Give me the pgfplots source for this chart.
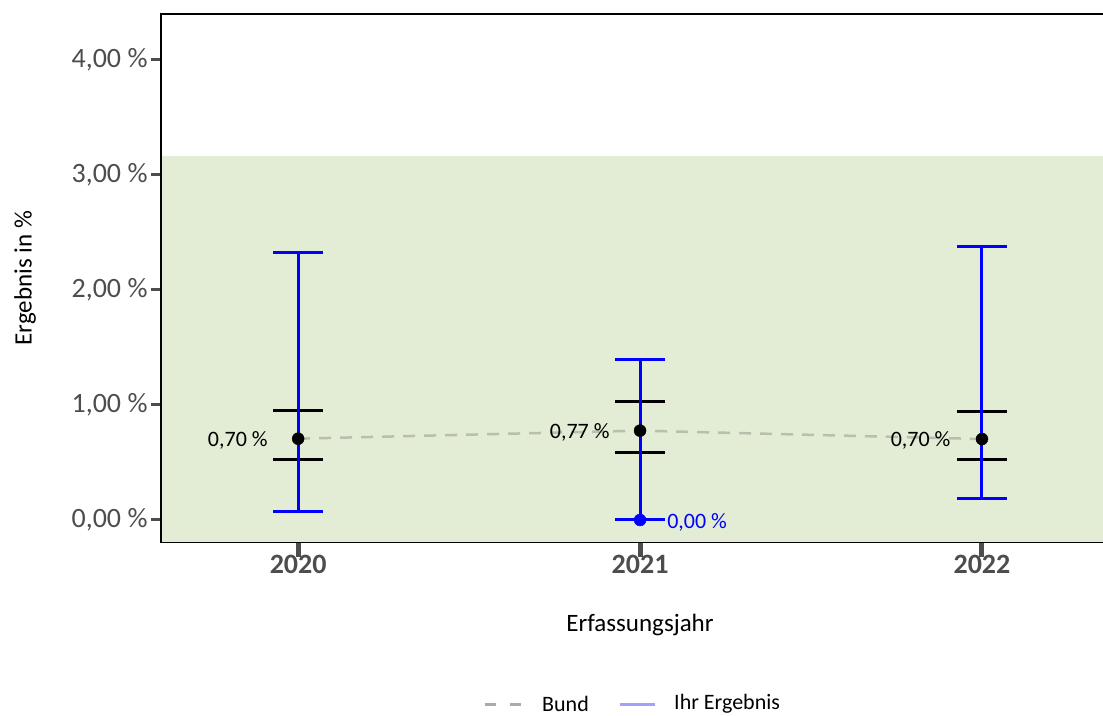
\documentclass[border=0pt]{standalone}
\usepackage{fontspec}
\setmainfont{Carlito}
\usepackage{pgfplots}
\pgfplotsset{compat=1.18}
\definecolor{band}{RGB}{227,236,212}
\definecolor{bund}{RGB}{185,190,175}
\definecolor{tickgray}{RGB}{77,77,77}
\definecolor{legblue}{RGB}{160,160,255}
\definecolor{leggray}{RGB}{170,170,170}
\begin{document}
\begin{tikzpicture}
\begin{axis}[
  at={(160pt,172pt)}, anchor=south west,
  scale only axis, width=943pt, height=529pt,
  xmin=2019.596, xmax=2022.354, ymin=-0.2, ymax=4.4,
  axis line style={draw=none},
  unbounded coords=jump,
  xtick={2020,2021,2022},
  xticklabels={\textbf{2020},\textbf{2021},\textbf{2022}},
  ytick={0,1,2,3,4},
  yticklabels={{0,00 \%},{1,00 \%},{2,00 \%},{3,00 \%},{4,00 \%}},
  tick align=outside, xtick pos=bottom, ytick pos=left,
  major tick length=9pt,
  ytick style={line width=3pt, color=tickgray},
  xtick style={line width=5pt, color=tickgray, /pgfplots/major tick length=14pt},
  ticklabel style={font=\fontsize{28}{32}\selectfont, text=tickgray},
  minor tick num=0,
]
\addplot[draw=none, fill=band, forget plot] coordinates {(2019.596,-0.2) (2022.354,-0.2) (2022.354,3.165) (2019.596,3.165)} -- cycle;
\addplot[bund, line width=2.5pt, dash pattern=on 12pt off 9pt, forget plot] coordinates {(2020,0.707) (2021,0.777) (2022,0.704)};
% Bund CI caps
\addplot[black, line width=3pt, forget plot] coordinates {
  (2020,0.528) (2020,0.950) (nan,nan)
  (2019.927,0.950) (2020.073,0.950) (nan,nan)
  (2019.927,0.528) (2020.073,0.528) (nan,nan)
  (2021,0.585) (2021,1.029) (nan,nan)
  (2020.927,1.029) (2021.073,1.029) (nan,nan)
  (2020.927,0.585) (2021.073,0.585) (nan,nan)
  (2022,0.528) (2022,0.942) (nan,nan)
  (2021.927,0.942) (2022.073,0.942) (nan,nan)
  (2021.927,0.528) (2022.073,0.528)};
% Bund points
\addplot[black, only marks, mark=*, mark size=6pt, forget plot] coordinates {(2020,0.707) (2021,0.777) (2022,0.704)};
% Ihr Ergebnis CI
\addplot[blue, line width=3pt, forget plot] coordinates {
  (2020,0.078) (2020,2.330) (nan,nan)
  (2019.927,2.330) (2020.073,2.330) (nan,nan)
  (2019.927,0.078) (2020.073,0.078) (nan,nan)
  (2021,0.000) (2021,1.397) (nan,nan)
  (2020.927,1.397) (2021.073,1.397) (nan,nan)
  (2020.927,0.000) (2021.073,0.000) (nan,nan)
  (2022,0.188) (2022,2.380) (nan,nan)
  (2021.927,2.380) (2022.073,2.380) (nan,nan)
  (2021.927,0.188) (2022.073,0.188)};
\addplot[blue, only marks, mark=*, mark size=6pt, forget plot] coordinates {(2021,0)};
\node[anchor=east, font=\fontsize{22}{26}\selectfont] at (axis cs:2020,0.690) [xshift=-27pt] {0,70 \%};
\node[anchor=east, font=\fontsize{22}{26}\selectfont] at (axis cs:2021,0.760) [xshift=-27pt] {0,77 \%};
\node[anchor=east, font=\fontsize{22}{26}\selectfont] at (axis cs:2022,0.690) [xshift=-28pt] {0,70 \%};
\node[anchor=west, font=\fontsize{22}{26}\selectfont, text=blue, inner sep=0pt] at (axis cs:2021,-0.02) [xshift=27pt] {0,00 \%};
\draw[black, line width=2pt] (rel axis cs:1,1) -- (rel axis cs:0,1);
\draw[black, line width=3pt] (rel axis cs:0,1) -- (rel axis cs:0,0);
\draw[black, line width=2.5pt] (rel axis cs:0,0) -- (rel axis cs:1,0);
\end{axis}
\node[rotate=90, font=\fontsize{25}{30}\selectfont] at (25pt,437pt) {Ergebnis in \%};
\node[font=\fontsize{25}{30}\selectfont] at (640pt,90pt) {Erfassungsjahr};
\draw[leggray, line width=3pt, dash pattern=on 11pt off 14pt] (485pt,11pt) -- (521pt,11pt);
\node[anchor=west, font=\fontsize{22}{26}\selectfont, inner sep=0pt] at (542pt,11pt) {Bund};
\draw[legblue, line width=3pt] (620pt,11pt) -- (655pt,11pt);
\node[anchor=west, font=\fontsize{22}{26}\selectfont, inner sep=0pt] at (674pt,11pt) {Ihr Ergebnis};
\pgfresetboundingbox
\path[use as bounding box] (0pt,0pt) rectangle (1103pt,715pt);
\end{tikzpicture}
\end{document}
